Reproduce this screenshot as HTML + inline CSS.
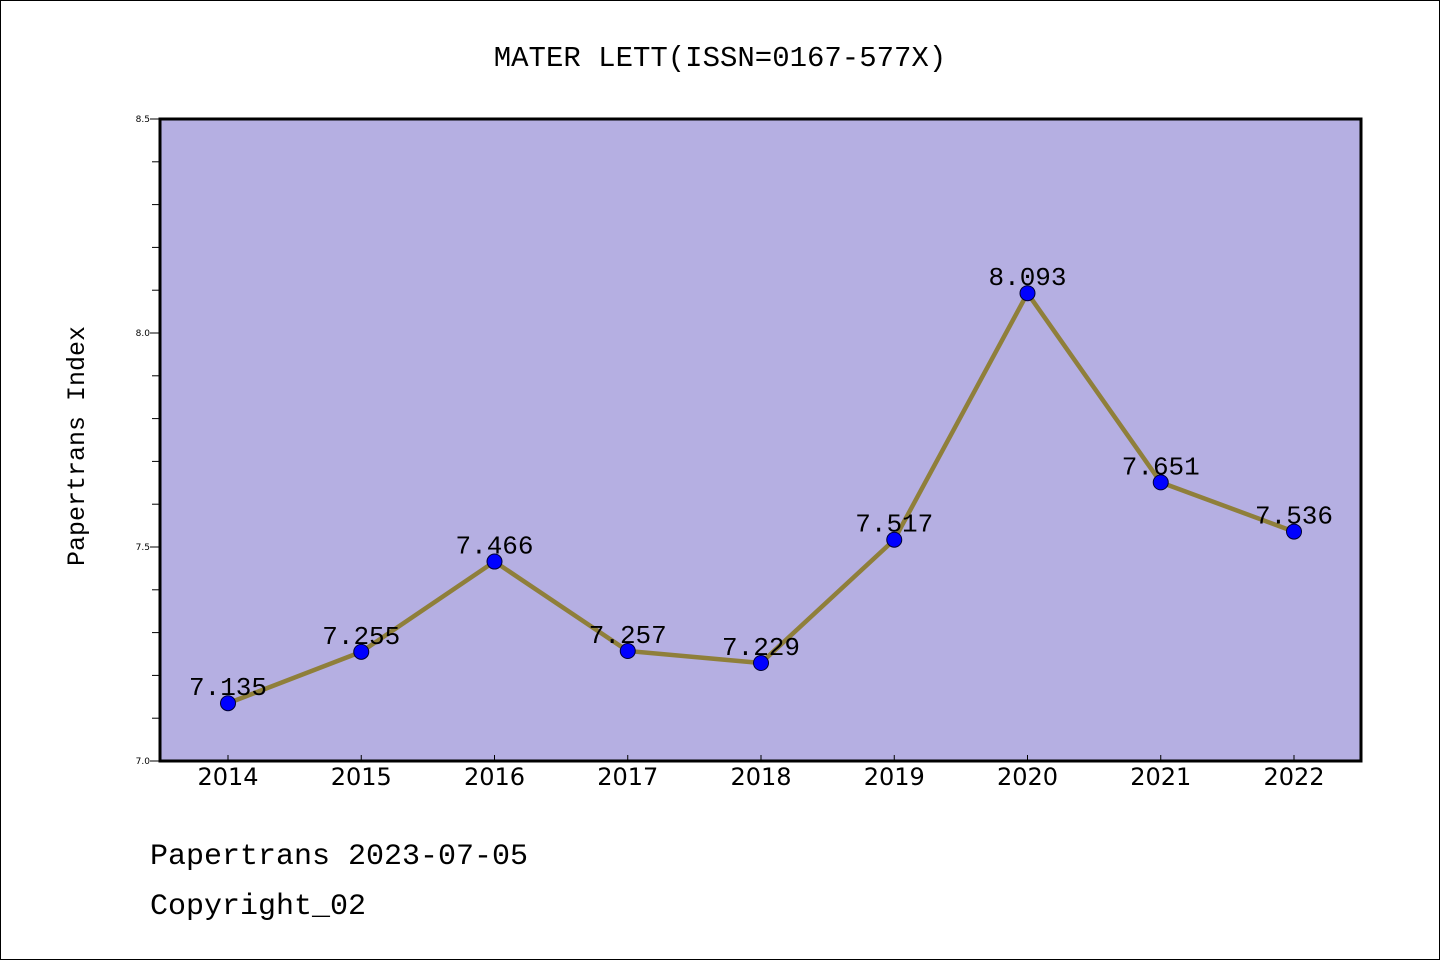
<!DOCTYPE html>
<html><head><meta charset="utf-8"><style>
body{margin:0;background:#fff;}
svg text{font-family:"Liberation Mono","WenQuanYi Zen Hei",monospace;}
</style></head><body>
<svg id="chart" width="1440" height="960" xmlns="http://www.w3.org/2000/svg">
<rect x="0.5" y="0.5" width="1439" height="959" fill="#fff" stroke="#000"/>
<text x="720" y="66" text-anchor="middle" font-size="29">MATER LETT(ISSN=0167-577X)</text>
<rect x="160" y="119" width="1201" height="642" fill="#b5afe2" stroke="#000" stroke-width="3"/>
<g id="yticks"></g><g id="xticks"></g><g id="series"></g>
<text transform="translate(84,446) rotate(-90)" text-anchor="middle" font-size="25">Papertrans Index</text>
<text x="150" y="864" font-size="30">Papertrans 2023-07-05</text>
<text x="150" y="914" font-size="30">Copyright_02</text>
</svg>
<script>
const years=[2014,2015,2016,2017,2018,2019,2020,2021,2022];
const values=[7.135,7.255,7.466,7.257,7.229,7.517,8.093,7.651,7.536];
const labels=["7.135","7.255","7.466","7.257","7.229","7.517","8.093","7.651","7.536"];
const yTickLabels=["7.0","7.5","8.0","8.5"];
const NS="http://www.w3.org/2000/svg";
const X=y=>228+(y-2014)*133.25;
const Y=v=>761-(v-7.0)*428;
function mk(t,a,p){const e=document.createElementNS(NS,t);for(const k in a)e.setAttribute(k,a[k]);p.appendChild(e);return e;}
const yt=document.getElementById('yticks');
for(let i=0;i<=15;i++){const v=7+i*0.1;const major=i%5===0;
 const l=mk('line',{x1:160,x2:major?150:152,y1:Y(v),y2:Y(v),stroke:'#000','stroke-width':1},yt);
 
 }
yTickLabels.forEach(s=>{const t=mk('text',{x:150,y:Y(parseFloat(s))+3,'text-anchor':'end','font-size':9,style:'font-family:"DejaVu Sans",sans-serif'},yt);t.textContent=s;
 
 });
const xt=document.getElementById('xticks');
years.forEach(y=>{const l=mk('line',{x1:X(y),x2:X(y),y1:761,y2:755,stroke:'#000','stroke-width':1},xt);
 
 
 const t=mk('text',{x:X(y),y:785,'text-anchor':'middle','font-size':24,style:'font-family:"DejaVu Sans",sans-serif'},xt);t.textContent=y;
 
 });
const sg=document.getElementById('series');
const pl=mk('polyline',{points:years.map((y,i)=>X(y)+','+Y(values[i])).join(' '),fill:'none',stroke:'#8f7f3a','stroke-width':4.5},sg);


years.forEach((y,i)=>{const c=mk('circle',{cx:X(y),cy:Y(values[i]),r:7.5,fill:'#0000ff',stroke:'#000033','stroke-width':1},sg);
 
 
 const t=mk('text',{x:X(y),y:Y(values[i])-8,'text-anchor':'middle','font-size':26},sg);t.textContent=labels[i];
 
 });
</script>
</body></html>
